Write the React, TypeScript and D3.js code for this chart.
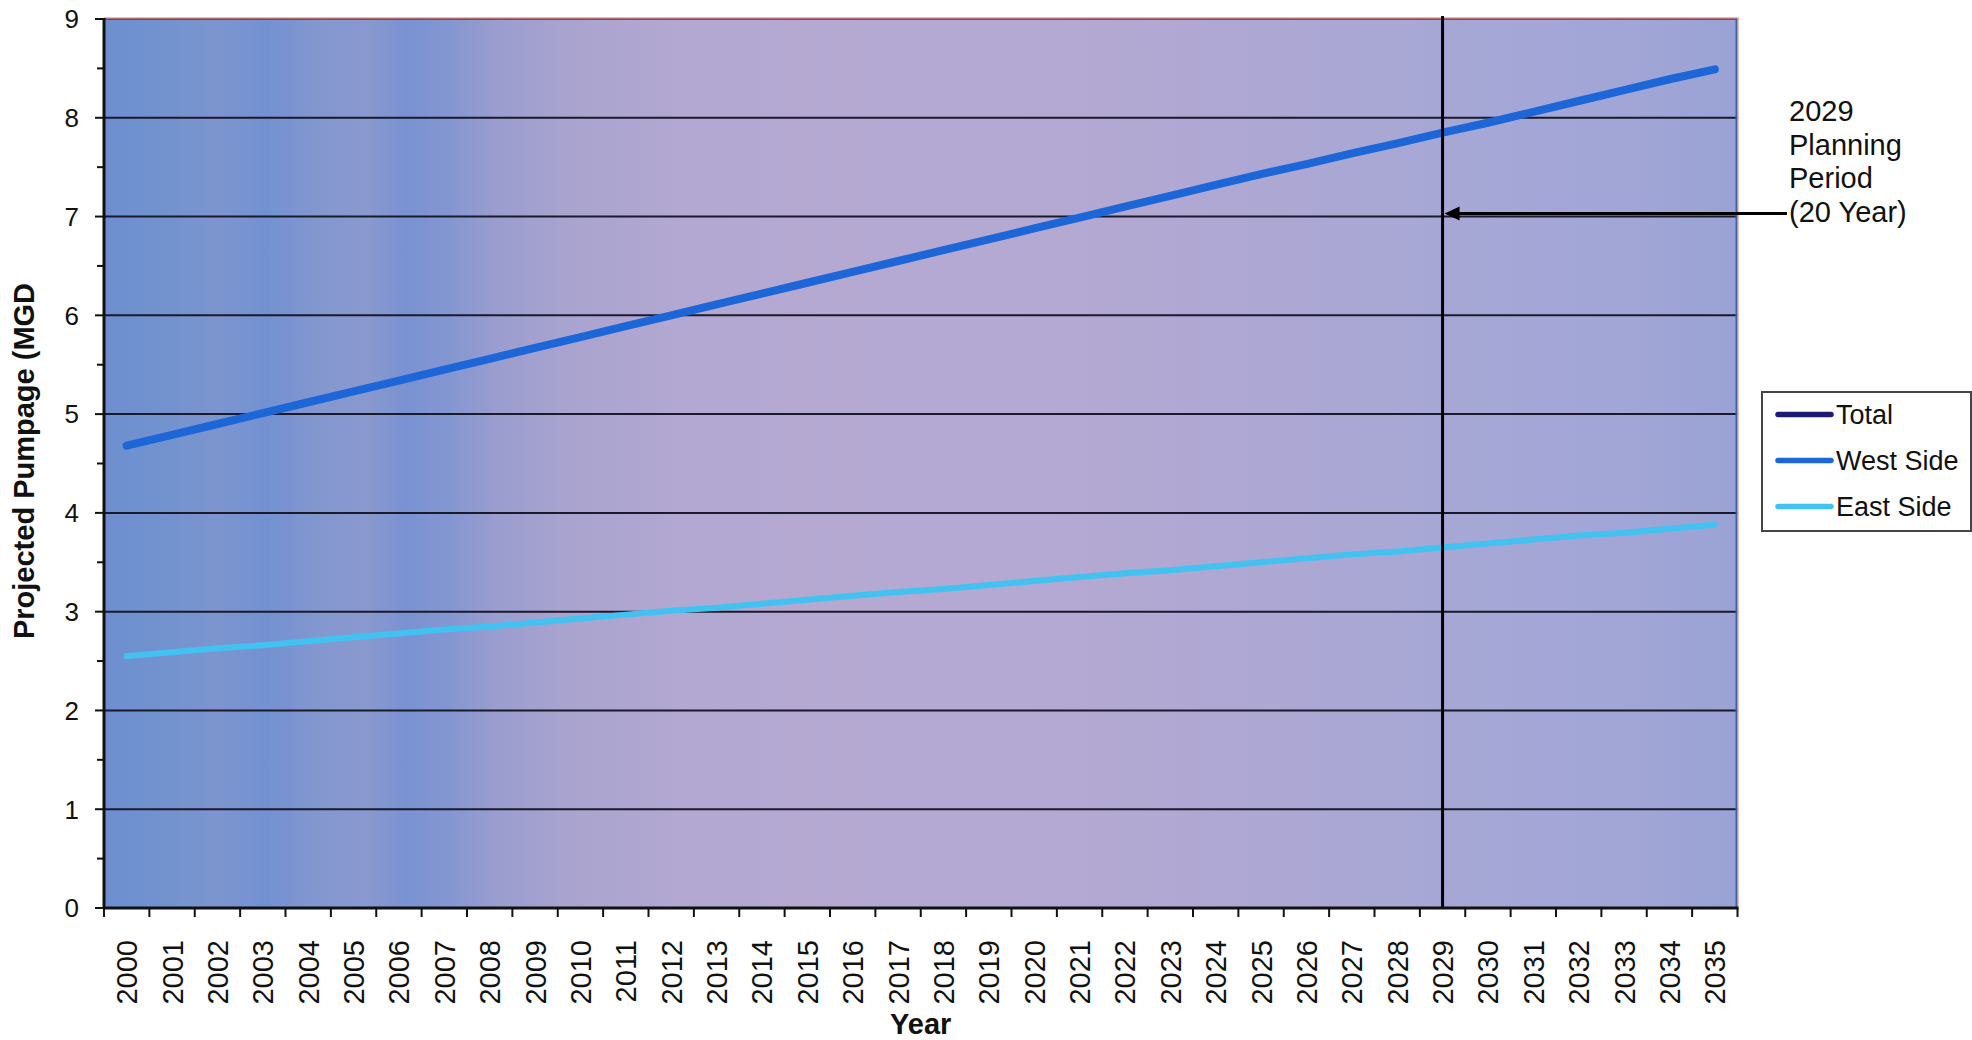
import React from "react";
import * as d3 from "d3";

// Projection years (category axis)
const years: string[] = [
  "2000", "2001", "2002", "2003", "2004", "2005", "2006", "2007", "2008", "2009",
  "2010", "2011", "2012", "2013", "2014", "2015", "2016", "2017", "2018", "2019",
  "2020", "2021", "2022", "2023", "2024", "2025", "2026", "2027", "2028", "2029",
  "2030", "2031", "2032", "2033", "2034", "2035",
];

// Projected pumpage, MGD
const westSide: number[] = [
  4.68, 4.79, 4.9, 5.01, 5.12, 5.23, 5.34, 5.45, 5.56, 5.67,
  5.78, 5.89, 6.0, 6.11, 6.22, 6.33, 6.44, 6.55, 6.66, 6.77,
  6.88, 6.99, 7.1, 7.21, 7.32, 7.43, 7.53, 7.64, 7.74, 7.85,
  7.95, 8.06, 8.17, 8.28, 8.39, 8.49,
];

const eastSide: number[] = [
  2.55, 2.59, 2.63, 2.66, 2.7, 2.74, 2.78, 2.82, 2.85, 2.89,
  2.93, 2.97, 3.01, 3.04, 3.08, 3.12, 3.16, 3.2, 3.23, 3.27,
  3.31, 3.35, 3.39, 3.42, 3.46, 3.5, 3.54, 3.58, 3.61, 3.65,
  3.69, 3.73, 3.77, 3.8, 3.84, 3.88,
];

// Total has no plotted values; it only appears in the legend
const totalSeries: number[] = [];

const yTicks: number[] = [0, 1, 2, 3, 4, 5, 6, 7, 8, 9];
const yMinorTicks: number[] = [0.5, 1.5, 2.5, 3.5, 4.5, 5.5, 6.5, 7.5, 8.5];

const planningYear = "2029";
const annotationLines: string[] = ["2029", "Planning", "Period", "(20 Year)"];

const seriesNames: string[] = ["Total", "West Side", "East Side"];
const seriesColors: string[] = ["#1c1a72", "#1c66d8", "#42c2f0"];

const W = 1972;
const H = 1040;
const FONT = "'Liberation Sans', Arial, sans-serif";

export default function App() {
  const left = 104;
  const right = 1737.5;
  const top = 19;
  const bottom = 908;

  const x = d3.scaleBand<string>().domain(years).range([left, right]).paddingInner(0).paddingOuter(0);
  const y = d3.scaleLinear().domain([0, 9]).range([bottom, top]);
  const cx = (yr: string) => (x(yr) as number) + x.bandwidth() / 2;

  const line = d3
    .line<number>()
    .x((_, i) => cx(years[i]))
    .y((v) => y(v));

  const seriesData = [totalSeries, westSide, eastSide];
  const seriesWidths = [7, 8, 6];

  const planX = cx(planningYear);
  const arrowY = 213.5;

  // background tint bands across the plot
  const bgStops: [number, string][] = [
    [0, "#6d8fd0"],
    [0.04, "#7393ce"],
    [0.07, "#7c95cf"],
    [0.1, "#7391d1"],
    [0.13, "#8397cf"],
    [0.16, "#8a99cf"],
    [0.185, "#7a92d2"],
    [0.21, "#8396d1"],
    [0.24, "#9a9dcf"],
    [0.28, "#a8a3cf"],
    [0.35, "#b2a8d1"],
    [0.45, "#b5a9d2"],
    [0.55, "#b4a9d2"],
    [0.65, "#b1a8d3"],
    [0.75, "#aba7d4"],
    [0.85, "#a5a7d6"],
    [0.93, "#a1a6d6"],
    [1, "#9aa3d5"],
  ];

  return (
    <svg
      width={W}
      height={H}
      viewBox={`0 0 ${W} ${H}`}
      style={{ position: "absolute", left: 0, top: 0, background: "#ffffff" }}
      fontFamily={FONT}
    >
      <defs>
        <linearGradient id="plotBg" x1="0" x2="1" y1="0" y2="0">
          {bgStops.map(([o, c], i) => (
            <stop key={i} offset={o} stopColor={c} />
          ))}
        </linearGradient>
      </defs>

      {/* plot area */}
      <rect x={left} y={top} width={right - left} height={bottom - top} fill="url(#plotBg)" />

      {/* horizontal gridlines */}
      {yTicks
        .filter((t) => t > 0 && t < 9)
        .map((t) => (
          <line key={`g${t}`} x1={left} x2={right} y1={y(t)} y2={y(t)} stroke="#1a1a2a" strokeWidth={2} />
        ))}

      {/* plot frame: top and right edges */}
      <line x1={left} x2={right} y1={top} y2={top} stroke="#5a3a4a" strokeWidth={1.5} />
      <line x1={left} x2={right + 1} y1={top - 1} y2={top - 1} stroke="#e07070" strokeWidth={1} />
      <line x1={right - 1} x2={right - 1} y1={top} y2={bottom} stroke="#3d63b0" strokeWidth={2} />
      <line x1={right + 0.5} x2={right + 0.5} y1={top - 1} y2={bottom} stroke="#e08a6a" strokeWidth={1} />

      {/* series lines */}
      {seriesData.map((vals, i) =>
        vals.length > 1 ? (
          <path
            key={seriesNames[i]}
            d={line(vals) as string}
            fill="none"
            stroke={seriesColors[i]}
            strokeWidth={seriesWidths[i]}
            strokeLinecap="round"
            strokeLinejoin="round"
          />
        ) : null
      )}

      {/* planning horizon marker */}
      <line x1={planX} x2={planX} y1={16} y2={bottom} stroke="#000" strokeWidth={3} />

      {/* axes */}
      <line x1={left} x2={left} y1={top - 1} y2={bottom + 1} stroke="#111" strokeWidth={3} />
      <line x1={left - 1} x2={right + 1} y1={bottom} y2={bottom} stroke="#111" strokeWidth={3} />

      {/* y ticks and labels */}
      {yTicks.map((t) => (
        <g key={`yt${t}`}>
          <line x1={95} x2={left} y1={y(t)} y2={y(t)} stroke="#111" strokeWidth={2} />
          <text x={79} y={y(t)} dy="0.36em" textAnchor="end" fontSize={26} fill="#111">
            {t}
          </text>
        </g>
      ))}
      {yMinorTicks.map((t) => (
        <line key={`ym${t}`} x1={97} x2={left} y1={y(t)} y2={y(t)} stroke="#111" strokeWidth={2} />
      ))}

      {/* x ticks and labels */}
      {years.map((yr) => (
        <line
          key={`xt${yr}`}
          x1={x(yr) as number}
          x2={x(yr) as number}
          y1={bottom}
          y2={bottom + 9}
          stroke="#111"
          strokeWidth={2}
        />
      ))}
      <line x1={right} x2={right} y1={bottom} y2={bottom + 9} stroke="#111" strokeWidth={2} />
      {years.map((yr) => (
        <text
          key={`xl${yr}`}
          transform={`translate(${cx(yr)},${940}) rotate(-90)`}
          textAnchor="end"
          dy="0.36em"
          fontSize={29}
          fill="#111"
        >
          {yr}
        </text>
      ))}

      {/* axis titles */}
      <text x={(left + right) / 2} y={1034} textAnchor="middle" fontSize={29} fontWeight="bold" fill="#111">
        Year
      </text>
      <text
        transform={`translate(24,${461}) rotate(-90)`}
        textAnchor="middle"
        dy="0.36em"
        fontSize={29}
        fontWeight="bold"
        fill="#111"
      >
        Projected Pumpage (MGD
      </text>

      {/* annotation */}
      <line x1={1787} x2={planX + 12} y1={arrowY} y2={arrowY} stroke="#000" strokeWidth={3} />
      <path
        d={`M${planX + 2},${arrowY} L${planX + 17},${arrowY - 7} L${planX + 17},${arrowY + 7} Z`}
        fill="#000"
      />
      {annotationLines.map((s, i) => (
        <text key={s} x={1789} y={121 + i * 33.7} fontSize={29} fill="#111">
          {s}
        </text>
      ))}

      {/* legend */}
      <rect x={1762} y={392} width={209} height={139} fill="#ffffff" stroke="#444" strokeWidth={2} />
      {seriesNames.map((name, i) => {
        const ly = 414.5 + i * 46;
        return (
          <g key={`lg${name}`}>
            <line x1={1778} x2={1831} y1={ly} y2={ly} stroke={seriesColors[i]} strokeWidth={5.5} strokeLinecap="round" />
            <text x={1836} y={ly} dy="0.36em" fontSize={27} fill="#111">
              {name}
            </text>
          </g>
        );
      })}
    </svg>
  );
}
